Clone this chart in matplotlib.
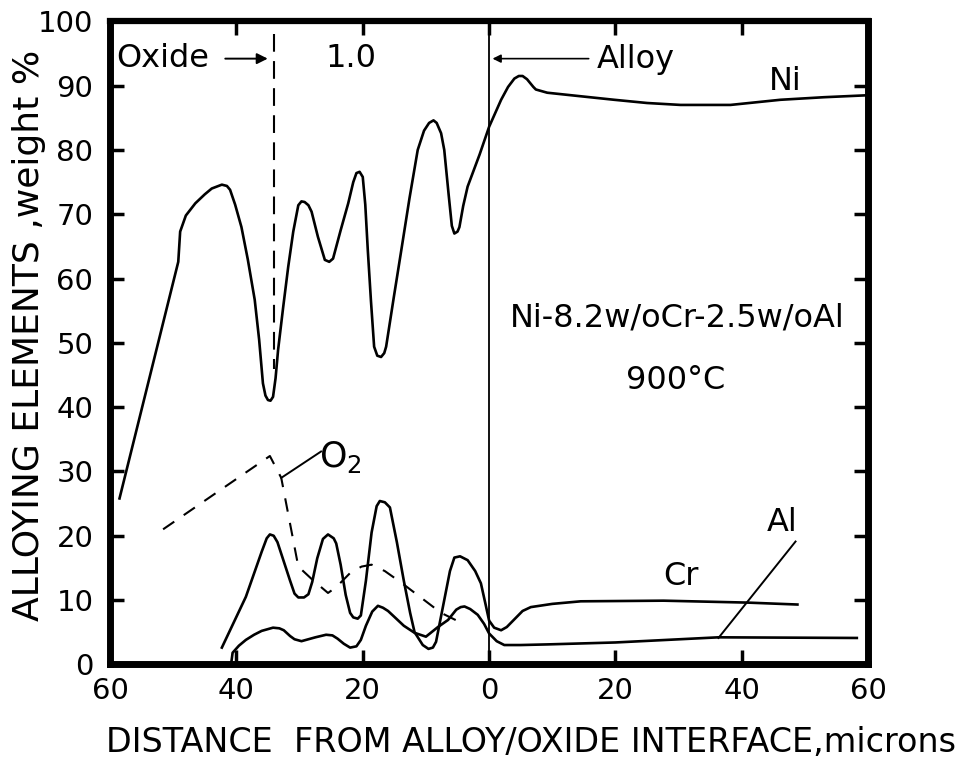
import numpy as np
import matplotlib
matplotlib.use("Agg")
import matplotlib.pyplot as plt

# --- data (x < 0 : oxide side, x > 0 : alloy side) ---
ni_x = [-58.5, -49.2, -48.9, -48.0, -46.5, -45.0, -43.9, -42.3, -41.5, -41.0, -40.2,
        -39.2, -38.2, -37.1, -36.4, -35.8, -35.4, -35.0, -34.6, -34.2, -33.8, -33.4,
        -32.6, -31.8, -31.0, -30.2, -29.7, -29.2, -28.6, -28.1, -27.1, -26.0, -25.3,
        -24.7, -23.5, -22.3, -21.5, -21.0, -20.5, -20.0, -19.6, -19.2, -18.7, -18.2,
        -17.7, -17.1, -16.6, -16.3, -15.1, -13.9, -12.6, -11.3, -10.3, -9.5, -8.8,
        -8.3, -7.6, -7.1, -6.4, -5.9, -5.5, -5.0, -4.7, -4.1, -3.4, -1.5, 0.0,
        1.9, 3.0, 4.0, 4.7, 5.3, 6.0, 7.0, 7.4, 9.2, 14.0, 19.8, 25.0, 30.3, 38.2,
        46.1, 53.0, 59.8]
ni_y = [25.8, 62.6, 67.3, 69.8, 71.7, 73.1, 74.0, 74.6, 74.4, 73.8, 71.5,
        68.0, 63.0, 56.7, 50.5, 43.7, 41.8, 41.1, 41.0, 41.6, 44.5, 48.9,
        55.5, 61.8, 67.3, 71.4, 72.0, 71.9, 71.4, 70.4, 66.5, 62.9, 62.6,
        63.1, 67.5, 71.7, 75.0, 76.4, 76.6, 75.8, 71.5, 64.4, 56.5, 49.4,
        48.0, 47.8, 48.4, 49.4, 57.0, 64.4, 72.5, 80.0, 83.0, 84.2, 84.6,
        84.2, 82.6, 80.0, 73.0, 68.2, 67.0, 67.3, 68.0, 71.3, 74.3, 79.3, 83.6,
        87.8, 89.8, 91.1, 91.5, 91.5, 91.0, 89.8, 89.4, 88.9, 88.4, 87.8, 87.3, 87.0, 87.0,
        87.8, 88.2, 88.5]

cr_x = [-42.3, -38.5, -36.0, -35.2, -34.7, -34.1, -33.5, -32.5, -31.5, -30.8, -30.2,
        -29.3, -28.6, -28.0, -27.2, -26.3, -25.5, -24.6, -24.2, -23.5, -22.7, -22.0,
        -21.5, -20.8, -20.3, -19.5, -18.6, -17.8, -17.3, -16.5, -15.7, -14.6, -13.5,
        -12.5, -11.8, -10.5, -9.6, -8.9, -8.4, -7.3, -6.2, -5.5, -4.6, -3.4, -2.2,
        -1.3, -0.6, 0.0, 0.8, 1.9, 2.8, 4.0, 5.3, 6.6, 10.0, 14.5, 27.6, 40.9, 48.8]
cr_y = [2.6, 10.5, 17.5, 19.6, 20.2, 20.0, 19.0, 16.0, 13.0, 11.0, 10.4,
        10.4, 10.9, 12.8, 16.5, 19.5, 20.2, 19.6, 18.8, 15.5, 10.8, 8.0,
        7.3, 7.1, 7.6, 13.0, 20.5, 24.6, 25.4, 25.2, 24.4, 19.0, 13.0,
        8.0, 5.0, 3.0, 2.4, 2.6, 3.5, 9.0, 14.5, 16.6, 16.8, 16.2, 14.5,
        12.6, 9.5, 6.8, 5.7, 5.3, 5.8, 7.0, 8.3, 8.9, 9.4, 9.8, 9.9, 9.6, 9.3]

al_x = [-40.8, -40.6, -39.6, -38.5, -37.2, -36.0, -34.2, -33.2, -32.5, -31.5, -30.8,
        -29.7, -28.6, -27.5, -25.8, -24.8, -24.0, -23.0, -22.0, -21.0, -20.3, -19.5,
        -18.5, -17.6, -16.8, -16.0, -14.8, -13.5, -11.8, -10.0, -8.1, -6.5, -5.2,
        -4.5, -3.9, -3.0, -1.8, -0.8, 0.0, 1.2, 2.4, 5.0, 9.3, 20.0, 36.3, 58.2]
al_y = [0.3, 1.8, 2.9, 3.8, 4.6, 5.2, 5.7, 5.6, 5.3, 4.4, 3.9,
        3.6, 3.9, 4.2, 4.6, 4.5, 4.0, 3.2, 2.6, 2.8, 3.8, 6.0,
        8.2, 9.1, 8.8, 8.3, 7.2, 6.0, 4.9, 4.3, 5.8, 6.9, 8.5,
        8.9, 9.0, 8.6, 7.7, 6.3, 4.8, 3.6, 3.0, 3.0, 3.1, 3.4, 4.2, 4.1]

o2_x = [-51.6, -34.7, -32.9, -30.2, -27.9, -25.5, -24.2, -22.0, -20.2, -18.6, -16.5,
        -13.9, -7.6, -4.9]
o2_y = [21.0, 32.4, 29.0, 15.2, 13.1, 11.1, 12.0, 14.2, 15.2, 15.5, 14.5,
        12.7, 8.0, 6.7]

x_ticks = [-60, -40, -20, 0, 20, 40, 60]
y_ticks = [0, 10, 20, 30, 40, 50, 60, 70, 80, 90, 100]

# --- plotting ---
plt.rcParams['font.family'] = ['DejaVu Sans']
plt.rcParams['mathtext.default'] = 'regular'

fig = plt.figure(figsize=(9.72, 7.65), dpi=100)
ax = fig.add_axes([0.1132, 0.1316, 0.78, 0.8405])

lw = 1.9
ax.plot(ni_x, ni_y, color='black', linewidth=lw)
ax.plot(cr_x, cr_y, color='black', linewidth=lw)
ax.plot(al_x, al_y, color='black', linewidth=lw)
ax.plot(o2_x, o2_y, color='black', linewidth=1.5, dashes=(6.5, 5.5))

# interface and oxide boundary
ax.axvline(0, color='black', linewidth=1.3)
ax.plot([-34, -34], [98, 46], color='black', linewidth=1.5, dashes=(8.5, 4.5))

# leaders
ax.plot([-32.9, -26.6], [29.0, 33.1], color='black', linewidth=1.4)
ax.plot([36.3, 48.5], [4.1, 19.1], color='black', linewidth=1.4)

# labels inside the plot
fs = 23
ax.text(-59.0, 94.2, "Oxide", fontsize=fs, va='center', ha='left')
ax.annotate("", xy=(-34.6, 94.2), xytext=(-42.2, 94.2),
            arrowprops=dict(arrowstyle='-|>', color='black', lw=1.4, mutation_scale=16))
ax.text(-21.8, 94.2, "1.0", fontsize=fs, va='center', ha='center')
ax.annotate("", xy=(0.1, 94.2), xytext=(16.2, 94.2),
            arrowprops=dict(arrowstyle='-|>', color='black', lw=1.2, mutation_scale=12))
ax.text(17.0, 94.0, "Alloy", fontsize=fs, va='center', ha='left')
ax.text(46.8, 90.6, "Ni", fontsize=fs, va='center', ha='center')
ax.text(29.7, 53.9, "Ni-8.2w/oCr-2.5w/oAl", fontsize=fs, va='center', ha='center')
ax.text(29.5, 44.2, "900°C", fontsize=fs, va='center', ha='center')
ax.text(30.3, 13.6, "Cr", fontsize=fs, va='center', ha='center')
ax.text(46.4, 22.0, "Al", fontsize=fs, va='center', ha='center')
ax.text(-23.6, 32.3, "O$_2$", fontsize=25, va='center', ha='center')

ax.set_xlim(-60, 60)
ax.set_ylim(0, 100)
ax.set_xticks(x_ticks)
ax.set_xticklabels([str(abs(v)) for v in x_ticks])
ax.set_yticks(y_ticks)

for side in ['left', 'bottom', 'right']:
    ax.spines[side].set_linewidth(5)
ax.spines['top'].set_linewidth(4.5)

ax.tick_params(axis='both', direction='in', length=10, width=2.5,
               top=True, right=True, labelsize=21)
ax.tick_params(axis='x', pad=9)
ax.tick_params(axis='y', pad=12)

ax.set_xlabel("DISTANCE  FROM ALLOY/OXIDE INTERFACE,microns", fontsize=24)
ax.set_ylabel("ALLOYING ELEMENTS ,weight %", fontsize=26)
ax.xaxis.set_label_coords(0.555, -0.096)
ax.yaxis.set_label_coords(-0.085, 0.512)

fig.savefig("out.png", dpi=100)
